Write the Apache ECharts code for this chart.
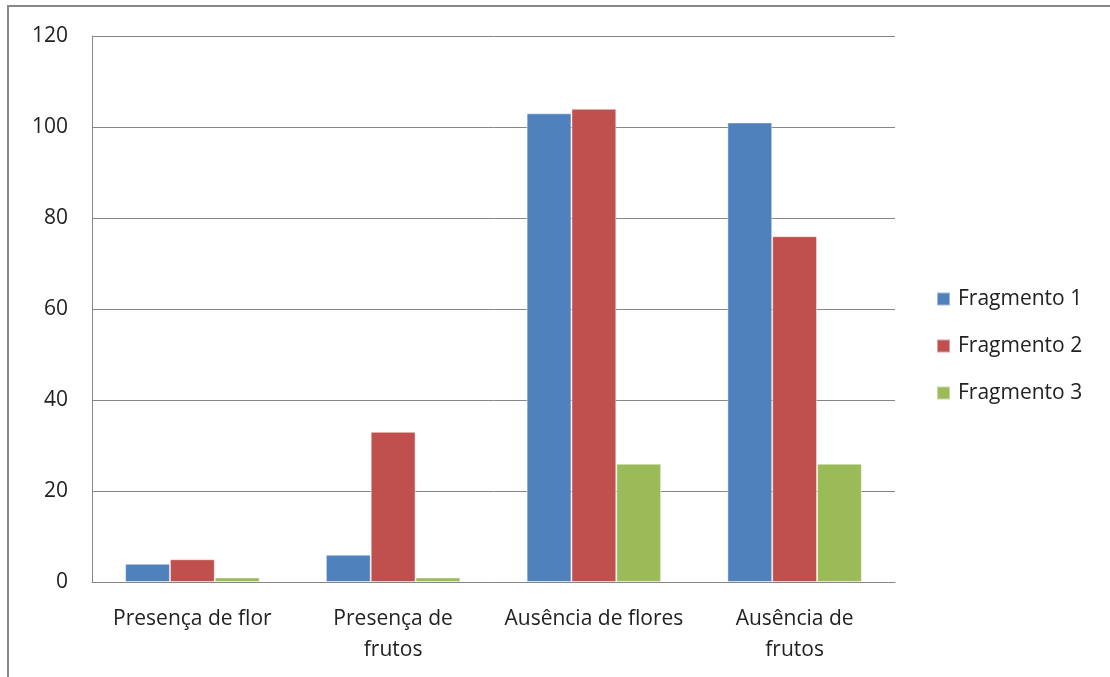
<!DOCTYPE html>
<html>
<head>
<meta charset="utf-8">
<script src="https://cdn.jsdelivr.net/npm/echarts@6/dist/echarts.min.js"></script>
<style>
  html, body { margin: 0; padding: 0; background: #fff; }
  #chart { width: 1110px; height: 677px; }
</style>
</head>
<body>
<div id="chart"></div>
<script>
const categories = ['Presença de flor', 'Presença de\nfrutos', 'Ausência de flores', 'Ausência de\nfrutos'];
const fragmento1 = [4, 6, 103, 101];
const fragmento2 = [5, 33, 104, 76];
const fragmento3 = [1, 1, 26, 26];
const seriesNames = ['Fragmento 1', 'Fragmento 2', 'Fragmento 3'];
const colors = ['#4F81BD', '#C0504D', '#9BBB59'];

const font = '"Open Sans", "Noto Sans", sans-serif';
const chart = echarts.init(document.getElementById('chart'), null, { renderer: 'canvas' });

const makeBar = (name, data, color) => ({
  name, type: 'bar', data,
  barGap: '0%', barCategoryGap: '33%',
  itemStyle: { color, borderColor: 'rgba(255,255,255,0.45)', borderWidth: 1 }
});

chart.setOption({
  animation: false,
  textStyle: { fontFamily: font },
  graphic: [{
    type: 'rect',
    shape: { x: 8, y: 6, width: 1200, height: 800 },
    style: { fill: 'none', stroke: '#888', lineWidth: 2 }
  }],
  grid: { left: 92, top: 36, width: 803, height: 546, containLabel: false },
  legend: {
    orient: 'vertical', left: 931, top: 283, itemGap: 25,
    itemWidth: 13, itemHeight: 13, icon: 'rect',
    textStyle: { fontFamily: font, fontSize: 21, lineHeight: 22, color: '#222', padding: [0, 0, 0, 3] },
    data: seriesNames
  },
  xAxis: {
    type: 'category', data: categories,
    axisLine: { lineStyle: { color: '#868686', width: 1 } },
    axisTick: { show: false },
    axisLabel: { fontFamily: font, fontSize: 21, color: '#222', margin: 22, lineHeight: 31, interval: 0 }
  },
  yAxis: {
    type: 'value', min: 0, max: 120, interval: 20,
    axisLine: { show: true, lineStyle: { color: '#868686', width: 1 } },
    axisTick: { show: false },
    splitLine: { lineStyle: { color: '#868686', width: 1 } },
    axisLabel: { fontFamily: font, fontSize: 21, color: '#222', margin: 24 }
  },
  series: [
    makeBar(seriesNames[0], fragmento1, colors[0]),
    makeBar(seriesNames[1], fragmento2, colors[1]),
    makeBar(seriesNames[2], fragmento3, colors[2])
  ]
});
</script>
</body>
</html>
